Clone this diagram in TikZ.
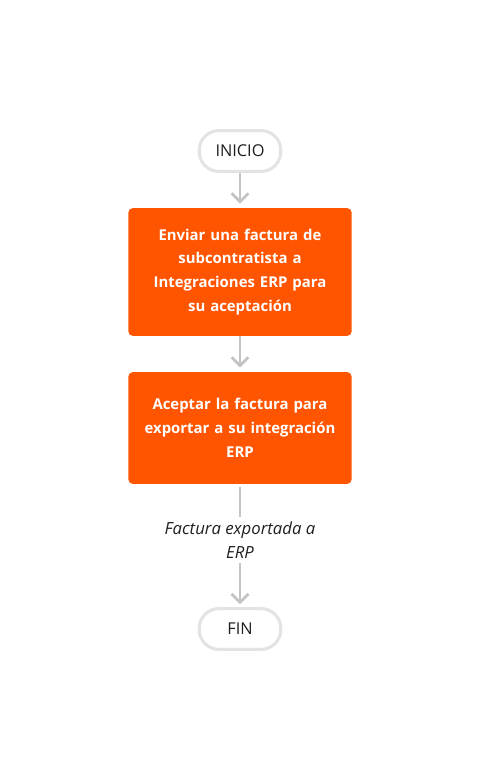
\documentclass[tikz,border=0pt]{standalone}
\usepackage{fontspec}
\setmainfont{Open Sans}
\usetikzlibrary{arrows.meta,positioning}
\definecolor{fillorange}{HTML}{FF5500}
\definecolor{linegray}{HTML}{C4C4C4}
\definecolor{termgray}{HTML}{E3E3E3}
\definecolor{textgray}{HTML}{1E1E1E}

\begin{document}
\begin{tikzpicture}[x=0.025cm,y=-0.025cm]
\tikzset{
  terminal/.style={draw=termgray, line width=2.2pt, rounded corners=14pt, fill=white,
    minimum width=58pt, minimum height=29pt, font=\fontsize{11.6}{13}\selectfont, text=textgray},
  process/.style={fill=fillorange, rounded corners=3pt, minimum width=158.7pt, text width=150pt,
    align=center, text=white, font=\fontsize{10.6}{17}\selectfont\bfseries},
  flow/.style={draw=linegray, line width=2pt, -{Straight Barb[length=6pt,width=12pt,line width=2pt]}},
  plain/.style={draw=linegray, line width=2pt},
}
\useasboundingbox (0,0) rectangle (480,780);
\node[terminal] (inicio) at (240,151) {INICIO};
\node[process, minimum height=90.7pt] (enviar) at (240,272) {Enviar una factura de\\subcontratista a\\Integraciones ERP para\\su aceptación};
\node[process, minimum height=79.4pt] (aceptar) at (240,428) {Aceptar la factura para\\exportar a su integración\\ERP};
\node[align=center, font=\fontsize{11.9}{17}\selectfont\itshape, text=textgray] (exportada) at (240,540) {Factura exportada a\\ERP};
\node[terminal] (fin) at (240,629) {FIN};
% conectores
\draw[flow] (inicio.south) -- ([yshift=3pt]enviar.north);
\draw[flow] (enviar.south) -- ([yshift=3pt]aceptar.north);
\draw[plain] ([yshift=-2pt]aceptar.south) -- (exportada.north);
\draw[flow] (exportada.south) -- ([yshift=2pt]fin.north);
\end{tikzpicture}
\end{document}
